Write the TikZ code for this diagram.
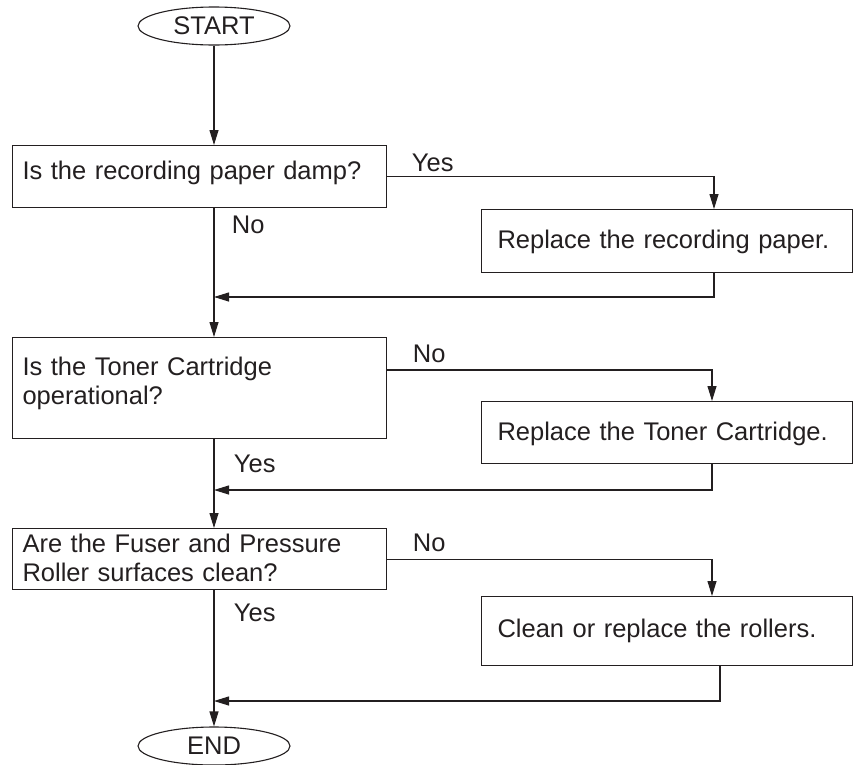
\documentclass[tikz,border=0pt]{standalone}
\usepackage{fontspec}
\setmainfont{Liberation Sans}
\usetikzlibrary{shapes.geometric,arrows.meta}
\definecolor{ink}{HTML}{231F20}

\tikzset{
  terminal/.style={draw,ellipse,minimum width=152pt,minimum height=38pt,inner sep=0pt},
  askbox/.style={draw,rectangle,anchor=north west,align=left,text width=354pt,inner xsep=10pt,inner ysep=0pt},
  fixbox/.style={draw,rectangle,anchor=north west,align=left,text width=339pt,inner xsep=16pt,inner ysep=0pt},
  flow/.style={-{Triangle[length=15pt,width=9pt]}},
  answer/.style={anchor=base west},
}

\begin{document}
\begin{tikzpicture}[x=1pt,y=-1pt,line width=1.1pt,color=ink,font=\fontsize{25.5}{28.5}\selectfont]
\useasboundingbox (0,0) rectangle (862,764);

% Terminals
\node[terminal] (start) at (214,26) {START};
\node[terminal] (end) at (214,746) {END};

% Checks on the left, fixes on the right
\node[askbox,text height=34pt,text depth=28pt] (paper) at (12,145) {Is the recording paper damp?};
\node[fixbox,text height=39pt,text depth=24pt] (newpaper) at (481,209) {Replace the recording paper.};

\node[askbox,text height=38pt,text depth=63pt] (toner) at (12,337) {Is the Toner Cartridge\\operational?};
\node[fixbox,text height=39pt,text depth=23pt] (newtoner) at (481,401) {Replace the Toner Cartridge.};

\node[askbox,text height=24pt,text depth=37pt] (roller) at (12,528) {Are the Fuser and Pressure\\Roller surfaces clean?};
\node[fixbox,text height=41pt,text depth=28pt] (newroller) at (481,596) {Clean or replace the rollers.};

% Answers
\node[answer] (yes1) at (408,171) {Yes};
\node[answer] (no1) at (228,233) {No};
\node[answer] (no2) at (409,362) {No};
\node[answer] (yes2) at (230,472) {Yes};
\node[answer] (no3) at (409,551) {No};
\node[answer] (yes3) at (230,621) {Yes};

% Branch points
\coordinate (newpaperin) at ([xshift=233pt]newpaper.north west);
\coordinate (newpaperout) at ([xshift=233pt]newpaper.south west);
\coordinate (tonerno) at ([yshift=-33pt]toner.north east);
\coordinate (newtonerin) at ([xshift=231pt]newtoner.north west);
\coordinate (newtonerout) at ([xshift=231pt]newtoner.south west);
\coordinate (newrollerin) at ([xshift=231pt]newroller.north west);
\coordinate (newrollerout) at ([xshift=239pt]newroller.south west);
\coordinate (join1) at (214,297);
\coordinate (join2) at (214,490);
\coordinate (join3) at (214,701);

% Main line
\draw[flow] (start.south) -- (start.south |- paper.north);
\draw[flow] (start.south |- paper.south) -- (start.south |- toner.north);
\draw[flow] (start.south |- toner.south) -- (start.south |- roller.north);
\draw[flow] (start.south |- roller.south) -- (end.north);

% Side branches
\draw[flow] (paper.east) -| (newpaperin);
\draw[flow] (newpaperout) |- (join1);
\draw[flow] (tonerno) -| (newtonerin);
\draw[flow] (newtonerout) |- (join2);
\draw[flow] (roller.east) -| (newrollerin);
\draw[flow] (newrollerout) |- (join3);

\end{tikzpicture}
\end{document}
